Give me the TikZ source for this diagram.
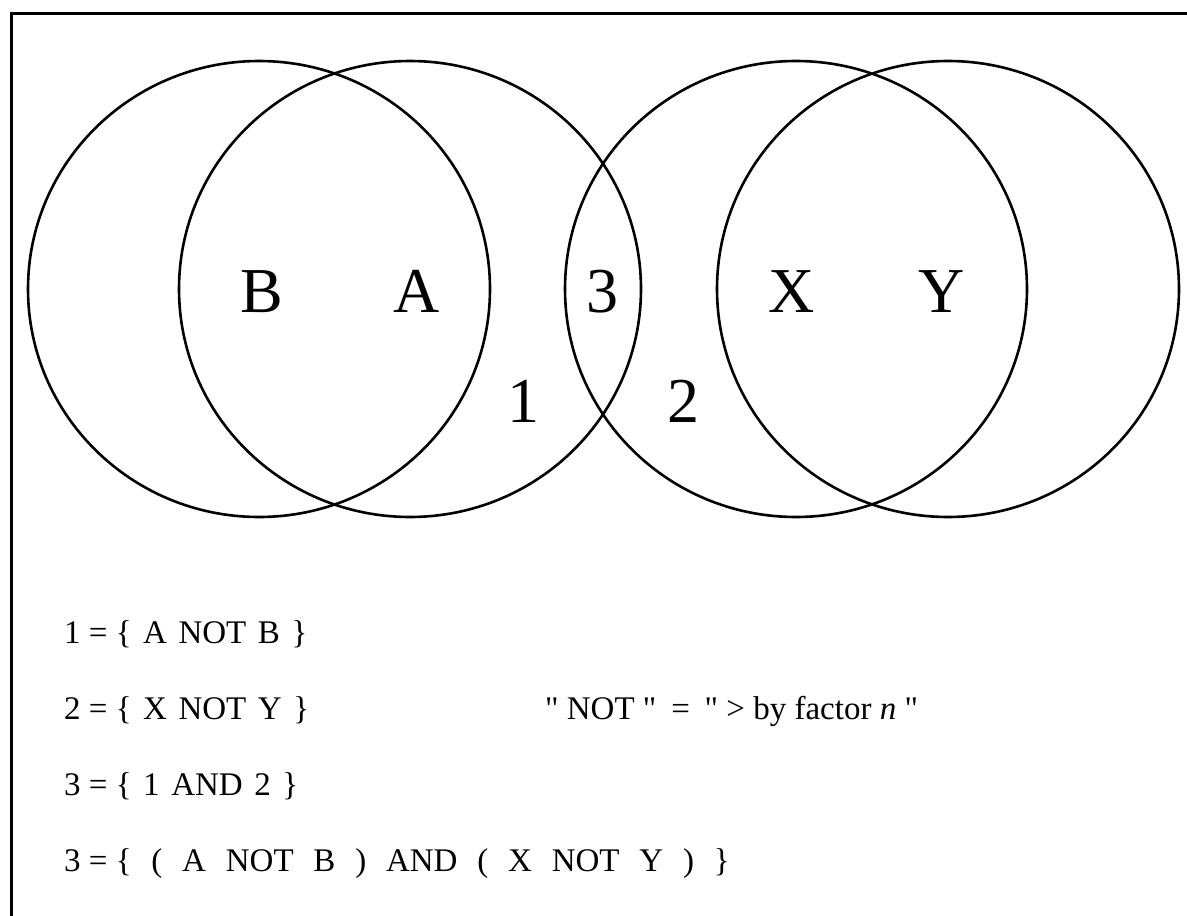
\documentclass[tikz,border=0pt]{standalone}
\usepackage{fontspec}
\setmainfont{Liberation Serif}[Ligatures=TeXOff]
\newcommand{\gp}{\hspace{0.35em}}
\newcommand{\wg}{\hspace{0.6em}}
\begin{document}
\begin{tikzpicture}[x=1pt,y=-1pt,
  frame/.style={line width=3pt},
  venn/.style={line width=2.6pt},
  biglabel/.style={anchor=base,inner sep=0pt,font=\fontsize{64}{64}\selectfont},
  formula/.style={anchor=base west,inner sep=0pt,font=\fontsize{33}{33}\selectfont}]
\useasboundingbox (0,0) rectangle (1187,916);
\coordinate (fb) at (11,916);
\coordinate (fc) at (11,13);
\coordinate (fr) at (1187,13);
\draw[frame] (fb) -- (fc) -- (fr);
% circles
\draw[venn] (259,289) ellipse [x radius=231, y radius=228];
\draw[venn] (410,289) ellipse [x radius=231, y radius=228];
\draw[venn] (796,289) ellipse [x radius=231, y radius=228];
\draw[venn] (948,289) ellipse [x radius=231, y radius=228];
% labels
\node[biglabel] (lB) at (262,312) {B};
\node[biglabel] (lA) at (417,312) {A};
\node[biglabel] (l3) at (602,312) {3};
\node[biglabel] (lX) at (792,312) {X};
\node[biglabel] (lY) at (942,312) {Y};
\node[biglabel] (l1) at (523,422) {1};
\node[biglabel] (l2) at (683,422) {2};
% formulas
\node[formula] (f1) at (64,643) {1 = \{\gp A\gp NOT\gp B\gp \}};
\node[formula] (f2) at (64,719) {2 = \{\gp X\gp NOT\gp Y\gp \}};
\node[formula] (f3) at (64,795) {3 = \{\gp 1\gp AND\gp 2\gp \}};
\node[formula] (f4) at (64,871) {3 = \{\wg (\wg A\wg NOT\wg B\wg )\wg AND\wg (\wg X\wg NOT\wg Y\wg )\wg \}};
\node[formula] (fn) at (545,719) {" NOT "\hspace{0.45em}=\hspace{0.45em}" > by factor \textit{n} "};
\end{tikzpicture}
\end{document}
